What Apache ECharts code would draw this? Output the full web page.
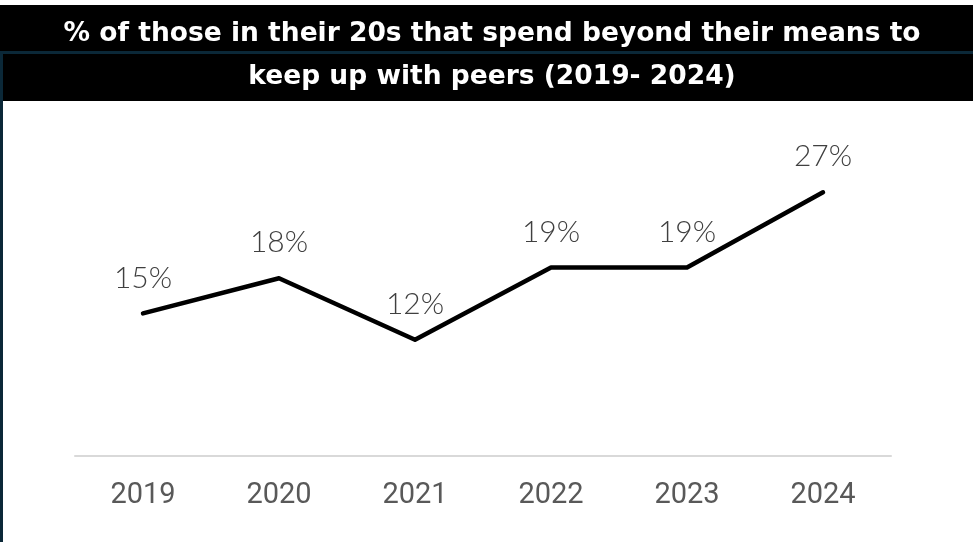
<!DOCTYPE html>
<html>
<head>
<meta charset="utf-8">
<script src="https://cdn.jsdelivr.net/npm/echarts@6/dist/echarts.min.js"></script>
<style>html,body{margin:0;padding:0;background:#fff;}#c{width:973px;height:542px;}</style>
</head>
<body>
<div id="c"></div>
<script>
const titleLines = ['% of those in their 20s that spend beyond their means to', 'keep up with peers (2019- 2024)'];
const years = ['2019', '2020', '2021', '2022', '2023', '2024'];
const shareValues = [14.6, 18.2, 11.9, 19.3, 19.3, 27.0];

const chart = echarts.init(document.getElementById('c'), null, {renderer: 'canvas'});
chart.setOption({
  backgroundColor: '#ffffff',
  animation: false,
  graphic: [
    {type: 'rect', shape: {x: 0, y: 5, width: 973, height: 96}, style: {fill: '#000000'}, z: 1},
    {type: 'line', shape: {x1: 0, y1: 52.5, x2: 973, y2: 52.5}, style: {stroke: '#0b2838', lineWidth: 3}, z: 2},
    {type: 'line', shape: {x1: 1.5, y1: 51, x2: 1.5, y2: 542}, style: {stroke: '#0b2838', lineWidth: 3}, z: 2},
    {type: 'text', x: 492, y: 34, style: {text: titleLines[0], fill: '#ffffff', font: 'bold 26.5px "DejaVu Sans"', textAlign: 'center', textVerticalAlign: 'middle'}, z: 3},
    {type: 'text', x: 492, y: 77, style: {text: titleLines[1], fill: '#ffffff', font: 'bold 26.5px "DejaVu Sans"', textAlign: 'center', textVerticalAlign: 'middle'}, z: 3}
  ],
  grid: {left: 75, right: 82, top: 163, bottom: 86},
  xAxis: {
    type: 'category',
    data: years,
    boundaryGap: true,
    axisLine: {lineStyle: {color: '#d9d9d9', width: 2}},
    axisTick: {show: false},
    axisLabel: {color: '#595959', fontSize: 29, fontFamily: 'Roboto', margin: 25}
  },
  yAxis: {
    type: 'value', min: 0, max: 30, interval: 5,
    show: false, splitLine: {show: false}
  },
  series: [{
    type: 'line',
    data: shareValues,
    symbol: 'circle',
    symbolSize: 1,
    showSymbol: true,
    itemStyle: {color: 'rgba(0,0,0,0)', borderWidth: 0},
    lineStyle: {color: '#000000', width: 4.5, cap: 'round', join: 'round'},
    label: {
      show: true, position: 'top', distance: 20,
      color: '#404040', fontSize: 30, fontFamily: 'Lato', fontWeight: 300,
      formatter: p => Math.round(p.value) + '%'
    }
  }]
});
</script>
</body>
</html>
